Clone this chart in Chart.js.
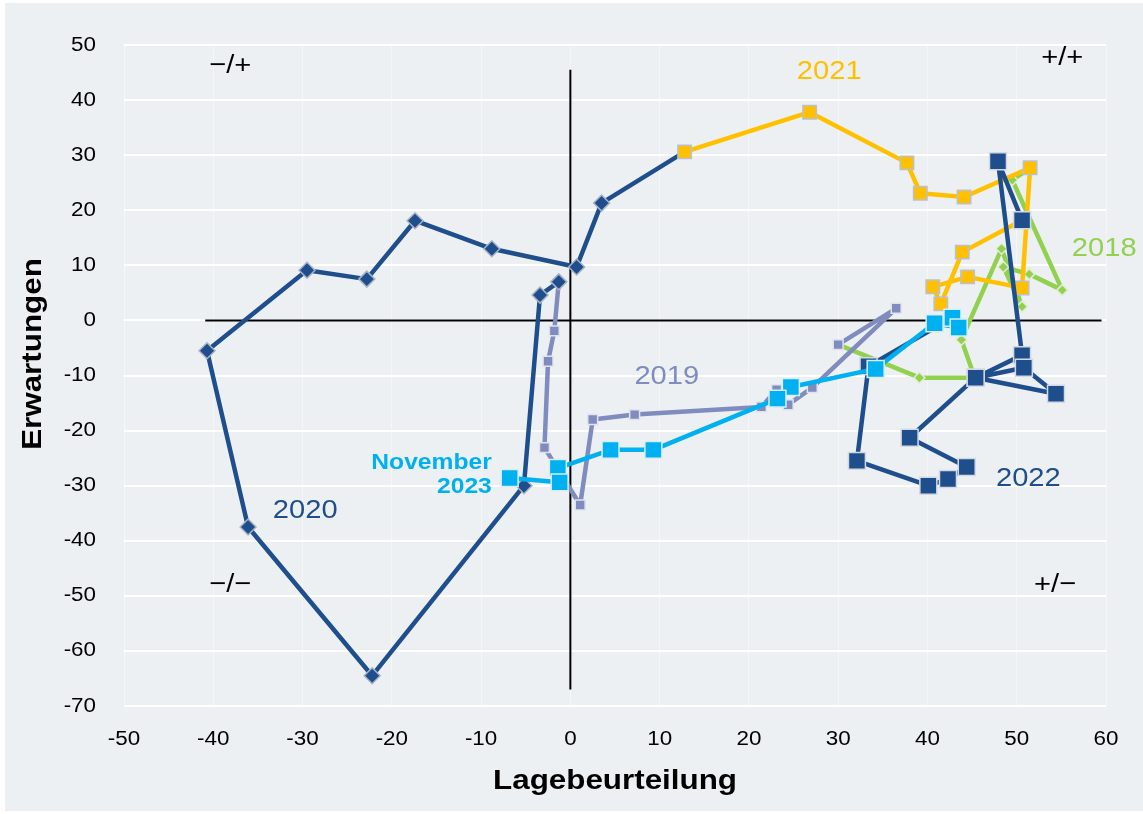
<!DOCTYPE html>
<html>
<head>
<meta charset="utf-8">
<script src="https://cdn.jsdelivr.net/npm/chart.js@4.4.0/dist/chart.umd.min.js"></script>
<style>
  html, body { margin: 0; padding: 0; background: #fff; }
  #wrap { width: 1143px; height: 814px; }
</style>
</head>
<body>
<div id="wrap"><canvas id="clock" width="1143" height="814"></canvas></div>
<script>
// Lagebeurteilung (x) and Erwartungen (y), one pair per year
const lage2018 = [51.4, 49.5, 55.1, 51.4, 48.5, 50.6, 48.3, 43.8, 45.3, 39.1];
const erw2018  = [27.5, 25.5, 5.5, 8.4, 9.7, 2.5, 13.0, -3.5, -10.4, -10.4];

const lage2019 = [30.0, 36.5, 27.1, 24.4, 23.1, 21.4, 7.2, 2.5, 1.1, -2.9, -2.5, -1.8];
const erw2019  = [-4.4, 2.2, -12.2, -15.3, -12.6, -15.7, -17.1, -18.0, -33.5, -23.1, -7.4, -1.9];

const lage2020 = [-1.3, -3.4, -5.2, -22.2, -36.1, -40.7, -29.5, -22.8, -17.4, -8.8, 0.7, 3.5];
const erw2020  = [7.0, 4.6, -30.0, -64.5, -37.5, -5.5, 9.1, 7.5, 18.1, 13.0, 9.7, 21.3];

const lage2021 = [12.8, 26.8, 37.7, 39.2, 44.1, 51.5, 50.6, 44.5, 40.6, 41.5, 43.9];
const erw2021  = [30.6, 37.8, 28.6, 23.1, 22.4, 27.7, 5.9, 7.9, 6.1, 3.0, 12.4];

const lage2022 = [50.6, 47.9, 50.6, 45.4, 50.8, 54.4, 45.4, 38.0, 44.4, 42.3, 40.1, 32.1, 33.4];
const erw2022  = [18.2, 28.9, -6.3, -10.4, -8.6, -13.3, -10.4, -21.3, -26.6, -28.8, -30.0, -25.5, -8.3];

const lage2023 = [42.8, 43.5, 40.8, 34.2, 24.7, 23.2, 9.3, 4.5, -1.4, -1.2, -6.8];
const erw2023  = [0.5, -1.3, -0.5, -8.8, -12.1, -14.2, -23.5, -23.5, -26.8, -29.4, -28.6];

// quadrant cross
const crossX = [-40.9, 59.5];
const crossY = [45.5, -67];

const xTicks = [-50, -40, -30, -20, -10, 0, 10, 20, 30, 40, 50, 60];
const yTicks = [50, 40, 30, 20, 10, 0, -10, -20, -30, -40, -50, -60, -70];

const TEXT_STRETCH = 1.12;
const FONT = '"Liberation Sans", Arial, sans-serif';

// join a year with the first month of the following one
function yearPoints(lage, erw, nextLage, nextErw) {
  const pts = lage.map((v, i) => ({ x: v, y: erw[i] }));
  if (nextLage) pts.push({ x: nextLage[0], y: nextErw[0] });
  return pts;
}

function radii(n, r, connector) {
  const arr = new Array(n).fill(r);
  if (connector) arr.push(0);
  return arr;
}

function yearDataset(lage, erw, nextLage, nextErw, opts) {
  return {
    label: opts.label,
    data: yearPoints(lage, erw, nextLage, nextErw),
    showLine: true,
    borderColor: opts.color,
    borderWidth: 4.5,
    borderJoinStyle: 'round',
    backgroundColor: opts.color,
    pointStyle: opts.style,
    pointRadius: radii(lage.length, opts.radius, !!nextLage),
    pointBorderColor: opts.edge,
    pointBorderWidth: 1.5,
    pointBackgroundColor: opts.color,
    order: opts.order
  };
}

const backdrop = {
  id: 'backdrop',
  beforeDraw(chart) {
    const ctx = chart.ctx;
    ctx.save();
    ctx.fillStyle = '#ffffff';
    ctx.fillRect(0, 0, chart.width, chart.height);
    ctx.fillStyle = '#edf0f2';
    ctx.fillRect(5, 3, chart.width - 5, chart.height - 6);
    ctx.restore();
  }
};

function stretchText(ctx, text, x, y, align, font, color, rotate) {
  ctx.save();
  ctx.translate(x, y);
  if (rotate) ctx.rotate(-Math.PI / 2);
  ctx.scale(TEXT_STRETCH, 1);
  ctx.font = font;
  ctx.fillStyle = color;
  ctx.textAlign = align;
  ctx.textBaseline = 'middle';
  ctx.fillText(text, 0, 0);
  ctx.restore();
}

// text placed in data units
const notes = [
  { text: '\u2212/+', x: -38.1, y: 46.2, color: '#000', font: '26px ' + FONT },
  { text: '+/+', x: 55.1, y: 47.6, color: '#000', font: '26px ' + FONT },
  { text: '\u2212/\u2212', x: -38.1, y: -48.0, color: '#000', font: '26px ' + FONT },
  { text: '+/\u2212', x: 54.3, y: -48.0, color: '#000', font: '26px ' + FONT },
  { text: '2018', x: 59.8, y: 13.0, color: '#92d050', font: '26px ' + FONT },
  { text: '2019', x: 10.8, y: -10.3, color: '#7f8cbd', font: '26px ' + FONT },
  { text: '2020', x: -29.7, y: -34.5, color: '#1f4e8c', font: '26px ' + FONT },
  { text: '2021', x: 29.0, y: 45.1, color: '#ffc000', font: '26px ' + FONT },
  { text: '2022', x: 51.3, y: -28.7, color: '#1f4e8c', font: '26px ' + FONT }
];

const labels = {
  id: 'labels',
  afterDraw(chart) {
    const ctx = chart.ctx;
    const xs = chart.scales.x, ys = chart.scales.y;
    xTicks.forEach(v => stretchText(ctx, String(v), xs.getPixelForValue(v), 739, 'center', '20px ' + FONT, '#000'));
    yTicks.forEach(v => stretchText(ctx, String(v), 96, ys.getPixelForValue(v), 'right', '20px ' + FONT, '#000'));
    stretchText(ctx, 'Lagebeurteilung', (xs.left + xs.right) / 2, 781, 'center', 'bold 28px ' + FONT, '#000');
    stretchText(ctx, 'Erwartungen', 33, 354, 'center', 'bold 28px ' + FONT, '#000', true);
    notes.forEach(n => stretchText(ctx, n.text, xs.getPixelForValue(n.x), ys.getPixelForValue(n.y), 'center', n.font, n.color));
    const nx = xs.getPixelForValue(-8.8);
    stretchText(ctx, 'November', nx, ys.getPixelForValue(-25.9), 'right', 'bold 22px ' + FONT, '#00b0f0');
    stretchText(ctx, '2023', nx, ys.getPixelForValue(-30.2), 'right', 'bold 22px ' + FONT, '#00b0f0');
  }
};

new Chart(document.getElementById('clock'), {
  type: 'scatter',
  data: {
    datasets: [
      { label: 'h', data: crossX.map(v => ({ x: v, y: 0 })), showLine: true, borderColor: '#000', borderWidth: 2, pointRadius: 0, order: 20 },
      { label: 'v', data: crossY.map(v => ({ x: 0, y: v })), showLine: true, borderColor: '#000', borderWidth: 2, pointRadius: 0, order: 20 },
      yearDataset(lage2018, erw2018, lage2019, erw2019, { label: '2018', color: '#92d050', style: 'rectRot', radius: 5.5, edge: '#e3ecd6', order: 6 }),
      yearDataset(lage2019, erw2019, lage2020, erw2020, { label: '2019', color: '#7f8cbd', style: 'rect', radius: 7, edge: '#dfe3ee', order: 5 }),
      yearDataset(lage2020, erw2020, lage2021, erw2021, { label: '2020', color: '#1f4e8c', style: 'rectRot', radius: 8, edge: '#a9b3c6', order: 4 }),
      yearDataset(lage2021, erw2021, lage2022, erw2022, { label: '2021', color: '#ffc000', style: 'rect', radius: 9.5, edge: '#b9c0cf', order: 3 }),
      yearDataset(lage2022, erw2022, lage2023, erw2023, { label: '2022', color: '#1f4e8c', style: 'rect', radius: 12, edge: '#d3d9e3', order: 2 }),
      yearDataset(lage2023, erw2023, null, null, { label: '2023', color: '#00b0f0', style: 'rect', radius: 12, edge: '#d7eef8', order: 1 })
    ]
  },
  options: {
    responsive: false,
    animation: false,
    devicePixelRatio: 1,
    layout: { padding: { left: 124, right: 37, top: 45, bottom: 108 } },
    plugins: { legend: { display: false }, tooltip: { enabled: false } },
    scales: {
      x: {
        type: 'linear', min: -50, max: 60,
        ticks: { stepSize: 10, display: false },
        grid: { color: '#f4f6f7', lineWidth: 1, drawTicks: false },
        border: { display: false }
      },
      y: {
        type: 'linear', min: -70, max: 50,
        ticks: { stepSize: 10, display: false },
        grid: { color: '#ffffff', lineWidth: 2, drawTicks: false },
        border: { display: false }
      }
    }
  },
  plugins: [backdrop, labels]
});
</script>
</body>
</html>
